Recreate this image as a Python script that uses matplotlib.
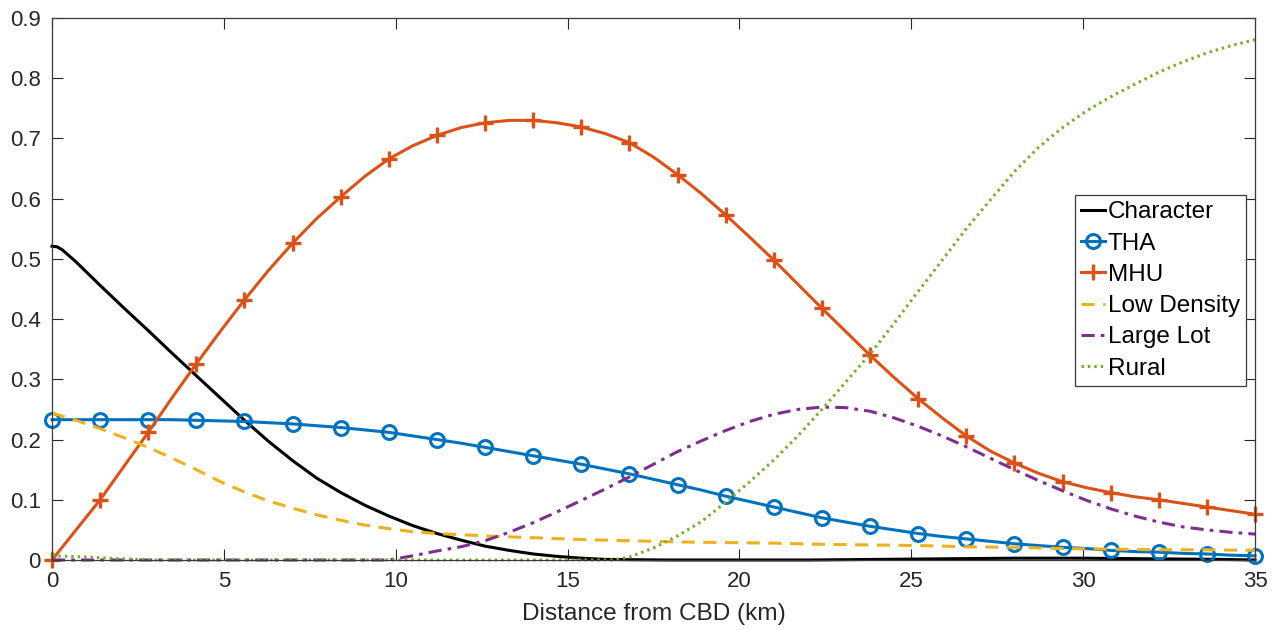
import numpy as np
import matplotlib
matplotlib.use("Agg")
import matplotlib.pyplot as plt

plt.rcParams['font.family'] = ['Liberation Sans', 'DejaVu Sans']

# ---------------- data ----------------
x_grid = np.round(np.arange(51) * 0.7, 1)          # 0, 0.7, ..., 35

tha = [0.233, 0.233, 0.233, 0.233, 0.233, 0.233, 0.232, 0.231, 0.230, 0.228,
       0.226, 0.223, 0.220, 0.216, 0.212, 0.206, 0.200, 0.194, 0.187, 0.180,
       0.173, 0.166, 0.159, 0.151, 0.143, 0.134, 0.125, 0.116, 0.106, 0.097,
       0.088, 0.079, 0.070, 0.063, 0.056, 0.050, 0.044, 0.039, 0.035, 0.031,
       0.027, 0.024, 0.021, 0.019, 0.016, 0.014, 0.013, 0.011, 0.010, 0.008,
       0.007]

mhu = [0.000, 0.050, 0.100, 0.156, 0.212, 0.270, 0.326, 0.380, 0.432, 0.481,
       0.526, 0.567, 0.603, 0.637, 0.666, 0.688, 0.705, 0.718, 0.726, 0.730,
       0.730, 0.726, 0.719, 0.708, 0.693, 0.669, 0.640, 0.608, 0.573, 0.536,
       0.498, 0.458, 0.418, 0.379, 0.340, 0.303, 0.268, 0.236, 0.206, 0.181,
       0.161, 0.144, 0.130, 0.120, 0.112, 0.105, 0.100, 0.094, 0.088, 0.082,
       0.076]

x_char = [0, 0.15, 0.3, 0.7, 1.4, 2.1, 2.8, 3.5, 4.2, 4.9, 5.6, 6.3, 7.0, 7.7,
          8.4, 9.1, 9.8, 10.5, 11.2, 11.9, 12.6, 13.3, 14.0, 14.7, 15.4, 16.1,
          16.8, 18, 20, 22, 24, 26, 28, 30, 32, 34, 35]
character = [0.521, 0.520, 0.515, 0.495, 0.456, 0.418, 0.381, 0.343, 0.306,
             0.269, 0.232, 0.197, 0.165, 0.136, 0.112, 0.091, 0.073, 0.057,
             0.044, 0.033, 0.023, 0.016, 0.010, 0.006, 0.003, 0.001, 0.0005,
             0.0, 0.0, 0.0, 0.001, 0.002, 0.003, 0.003, 0.002, 0.001, 0.0]

x_low = [0, 0.7, 1.4, 2.1, 2.8, 3.5, 4.2, 4.9, 5.6, 6.3, 7.0, 7.7, 8.4, 9.1,
         9.8, 10.5, 11.2, 12.6, 14.0, 15.4, 16.8, 18.2, 19.6, 21.0, 22.4, 23.8,
         25.2, 26.6, 28.0, 29.4, 30.8, 32.2, 33.6, 35.0]
low_density = [0.244, 0.232, 0.218, 0.203, 0.187, 0.169, 0.150, 0.130, 0.113,
               0.098, 0.086, 0.075, 0.066, 0.058, 0.052, 0.047, 0.044, 0.040,
               0.037, 0.034, 0.032, 0.030, 0.029, 0.028, 0.026, 0.025, 0.024,
               0.022, 0.021, 0.019, 0.018, 0.017, 0.017, 0.016]

x_large = [0, 9.8, 10.5, 11.2, 11.9, 12.6, 13.3, 14.0, 14.7, 15.4, 16.1, 16.8,
           17.5, 18.2, 18.9, 19.6, 20.3, 21.0, 21.7, 22.4, 23.1, 23.8, 24.5,
           25.2, 25.9, 26.6, 27.3, 28.0, 28.7, 29.4, 30.1, 30.8, 31.5, 32.2,
           32.9, 33.6, 34.3, 35.0]
large_lot = [0.0, 0.0, 0.007, 0.015, 0.022, 0.032, 0.046, 0.062, 0.080, 0.099,
             0.118, 0.138, 0.159, 0.180, 0.198, 0.215, 0.230, 0.242, 0.250,
             0.254, 0.253, 0.247, 0.236, 0.222, 0.206, 0.188, 0.169, 0.150,
             0.132, 0.115, 0.099, 0.085, 0.073, 0.063, 0.055, 0.050, 0.046,
             0.043]

x_rural = [0, 1.0, 2.0, 3.0, 16.3, 16.8, 17.5, 18.2, 18.9, 19.6, 20.3, 21.0,
           21.7, 22.4, 23.1, 23.8, 24.5, 25.2, 25.9, 26.6, 27.3, 28.0, 28.7,
           29.4, 30.1, 30.8, 31.5, 32.2, 32.9, 33.6, 34.3, 35.0]
rural = [0.007, 0.005, 0.002, 0.0, 0.0, 0.005, 0.020, 0.040, 0.064, 0.096,
         0.130, 0.166, 0.206, 0.250, 0.296, 0.342, 0.393, 0.446, 0.498, 0.550,
         0.598, 0.645, 0.685, 0.718, 0.746, 0.769, 0.790, 0.810, 0.827, 0.842,
         0.854, 0.864]

x_ticks = [0, 5, 10, 15, 20, 25, 30, 35]
x_tick_labels = ['0', '5', '10', '15', '20', '25', '30', '35']
y_ticks = [0, 0.1, 0.2, 0.3, 0.4, 0.5, 0.6, 0.7, 0.8, 0.9]
y_tick_labels = ['0', '0.1', '0.2', '0.3', '0.4', '0.5', '0.6', '0.7', '0.8', '0.9']

# ---------------- plot ----------------
fig = plt.figure(figsize=(12.77, 6.30), dpi=100)
ax = fig.add_axes([52 / 1277, 70 / 630, 1203 / 1277, 542 / 630])

lw = 2.2
axc = '#262626'
ax.plot(x_char, character, color='black', lw=lw, label='Character', clip_on=False)
ax.plot(x_grid, tha, color='#0072BD', lw=lw, marker='o', markevery=2,
        markersize=10, markerfacecolor='none', markeredgewidth=2.2,
        label='THA', clip_on=False)
ax.plot(x_grid, mhu, color='#D95319', lw=lw, marker='+', markevery=2,
        markersize=11, markeredgewidth=2.4, label='MHU', clip_on=False)
ax.plot(x_low, low_density, color='#EDB120', lw=lw, dashes=(4.3, 2.8),
        label='Low Density', clip_on=False)
ax.plot(x_large, large_lot, color='#7E2F8E', lw=lw, dashes=(4.3, 2.0, 1.2, 2.0),
        label='Large Lot', clip_on=False)
ax.plot(x_rural, rural, color='#77AC30', lw=lw, linestyle=(0, (0.8, 1.3)),
        label='Rural', clip_on=False)

ax.set_xlim(0, 35)
ax.set_ylim(0, 0.9)
ax.set_xticks(x_ticks, x_tick_labels)
ax.set_yticks(y_ticks, y_tick_labels)
ax.tick_params(direction='in', length=8, width=0.8, color=axc, labelcolor=axc,
               labelsize=16, top=True, right=True, pad=8)
for s in ax.spines.values():
    s.set_color('#3a3a3a')
    s.set_linewidth(0.9)
ax.set_xlabel('Distance from CBD (km)', fontsize=17.6, color=axc, labelpad=8)

leg = ax.legend(loc='upper right', bbox_to_anchor=(0.9925, 0.673),
                borderaxespad=0, fontsize=17.5, handlelength=1.0,
                handletextpad=0.1, borderpad=0.25, labelspacing=0.38,
                fancybox=False, framealpha=1, edgecolor='#3a3a3a',
                numpoints=1)
leg.get_frame().set_linewidth(0.9)

fig.savefig('out.png', dpi=100)
